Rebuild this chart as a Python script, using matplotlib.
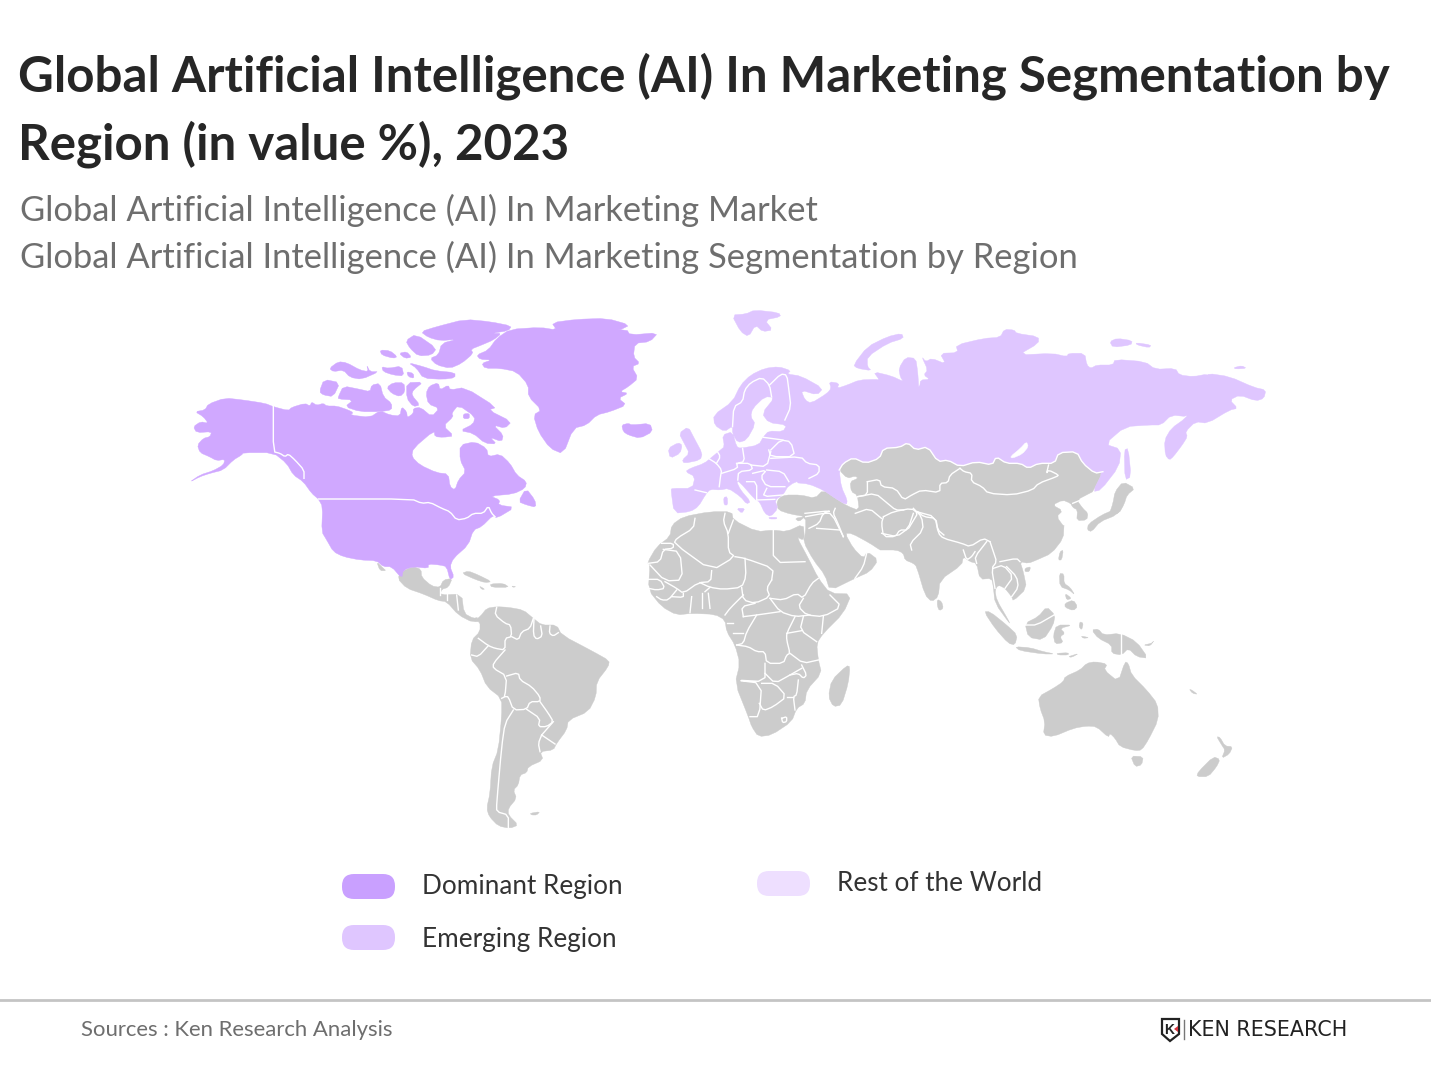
import matplotlib
matplotlib.use("Agg")
import matplotlib.pyplot as plt
from matplotlib.patches import Polygon, FancyBboxPatch

# ---------- texts ----------
TITLE_LINES = ["Global Artificial Intelligence (AI) In Marketing Segmentation by",
               "Region (in value %), 2023"]
SUBTITLE_LINES = ["Global Artificial Intelligence (AI) In Marketing Market",
                  "Global Artificial Intelligence (AI) In Marketing Segmentation by Region"]
LEGEND_LABELS = ["Dominant Region", "Emerging Region", "Rest of the World"]
SOURCE = "Sources : Ken Research Analysis"
LOGO = "KEN RESEARCH"

DOMINANT = "#D0A8FF"
EMERGING = "#DFC6FF"
REST_LEGEND = "#EEDFFF"
LEGEND_DOM = "#C9A0FF"
LAND = "#CCCCCC"

N = (180, 300, 3.0, 3.0)
E = (650, 300, 2.484, 3.0)
S = (390, 500, 3.0, 3.0)
P = (880, 500, 3.0, 3.0)

# ---------- North America (dominant) ----------
NA_MAIN = [(28,547),(60,525),(100,512),(130,495),(135,478),(110,482),(88,470),(60,458),(52,435),(70,415),(90,410),(95,395),(50,398),(40,380),(62,365),(85,370),(70,350),(45,335),(75,330),(85,312),(135,294),(190,300),(255,310),(280,320),(325,332),(335,322),(375,310),(390,318),(395,306),(410,316),(430,310),(440,318),(470,318),(505,330),(520,338),(510,345),(570,352),(600,332),(630,345),(660,348),(665,320),(680,335),(682,353),(700,340),(700,325),(722,322),(755,350),(778,325),(745,312),(738,280),(748,258),(775,248),(780,270),(805,255),(810,270),(855,262),(950,322),(925,330),(995,365),(975,385),(940,375),(970,405),(965,425),(930,412),(950,432),(915,430),(880,400),(840,392),(880,372),(885,350),(835,315),(815,340),(820,350),(790,378),(822,408),(790,412),(765,410),(762,392),(700,445),(695,470),(720,495),(770,518),(805,522),(810,560),(825,570),(835,540),(858,515),(840,480),(840,435),(885,425),(920,445),(925,470),(960,462),(990,490),(1010,525),(1040,545),(1035,565),(1000,582),(930,588),(960,600),(955,615),(1005,622),(950,655),(940,645),(905,680),(880,690),(865,735),(820,775),(810,800),(822,830),(810,840),(800,800),(780,795),(745,792),(745,805),(700,800),(670,810),(665,835),(635,800),(610,800),(590,782),(540,780),(490,770),(460,755),(440,720),(425,695),(428,620),(415,597),(395,580),(370,545),(340,525),(320,490),(280,458),(190,458),(185,465),(160,480),(130,510),(90,520),(60,530)]
NA_ISLANDS = [
 [(1015,605),(1038,565),(1065,600),(1068,622),(1040,615)],
 [(677,122),(708,102),(770,145),(755,165),(715,168),(690,145)],
 [(722,95),(770,80),(855,58),(930,65),(995,78),(985,92),(935,100),(965,100),(940,120),(905,135),(872,148),(880,160),(845,190),(810,205),(770,195),(750,175),(775,165),(785,130),(830,118),(780,122),(745,112)],
 [(685,188),(730,200),(765,212),(825,218),(825,233),(790,238),(730,235),(710,205)],
 [(600,150),(630,152),(652,170),(640,175),(605,165)],
 [(657,160),(680,155),(695,172),(675,175)],
 [(448,205),(475,185),(500,188),(540,210),(565,215),(560,195),(570,215),(597,215),(545,238),(510,232),(490,210),(460,215)],
 [(605,200),(625,205),(665,198),(672,228),(640,225),(610,215)],
 [(680,215),(700,220),(702,235),(685,230)],
 [(418,275),(432,238),(480,248),(460,290),(430,285)],
 [(475,290),(490,258),(540,268),(570,275),(575,255),(600,250),(610,290),(635,310),(635,330),(600,335),(540,335),(495,320),(520,300),(475,297)],
 [(620,262),(640,248),(672,248),(675,275),(660,290),(635,280)],
 [(680,248),(730,246),(700,270),(695,285),(720,315),(700,320),(680,295)],
 [(850,342),(868,340),(868,356),(850,356)],
 [(890,165),(925,150),(950,115),(990,88),(1080,82),(1130,90),(1115,68),(1190,58),(1280,55),(1350,75),(1320,90),(1250,92),(1340,88),(1350,105),(1435,98),(1410,125),(1365,130),(1360,170),(1380,190),(1355,200),(1375,235),(1345,260),(1320,275),(1345,280),(1315,295),(1340,315),(1290,335),(1250,345),(1220,375),(1180,385),(1150,462),(1110,445),(1075,395),(1060,345),(1085,330),(1045,290),(1045,255),(1010,215),(960,205),(915,205),(905,190),(935,180),(900,178)],
 [(1325,375),(1345,370),(1355,375),(1410,370),(1418,395),(1380,415),(1345,405),(1330,395)],
]
NA_BORDERS = [
 [(280,320),(280,455),(300,460),(315,470),(325,462),(345,480),(372,510),(372,535)],
 [(415,597),(695,597),(725,610),(750,607),(785,625),(810,635),(830,660),(860,655),(880,640),(910,640),(925,618),(935,640),(945,650)],
]

# ---------- Europe and Russia (emerging) ----------
RUSSIA_SOUTH = [(1125,515),(1105,520),(1075,490),(1060,455),(1015,458),(1005,490),(965,490),(940,505),(920,490),(885,490),(860,470),(850,495),(810,485),(770,500),(740,480),(715,485),(690,440),(660,450),(640,428),(620,442),(580,445),(570,475),(535,490),(505,473),(480,490),(470,510)]
EU_NORTH = [(52,570),(55,565),(105,565),(112,530),(88,515),(100,505),(135,490),(155,470),(175,450),(185,440),(180,405),(205,395),(215,440),(225,445),(270,435),(282,410),(295,393),(330,395),(340,375),(295,368),(278,340),(310,292),(285,290),(255,325),(250,350),(262,372),(240,420),(218,428),(205,400),(205,378),(185,395),(160,375),(158,345),(205,305),(225,255),(250,225),(285,205),(320,200),(350,212),(340,222),(375,228),(430,265),(415,285),(375,270),(385,300),(400,310),(440,280),(450,265),(445,245),(470,250),(465,265),(490,255),(520,240),(560,238),(570,240),(555,215),(600,228),(630,245),(622,232),(618,205),(635,172),(660,175),(665,215),(668,270),(650,278),(670,260),(672,240),(695,238),(680,225),(690,210),(675,170),(685,185),(700,175),(735,192),(720,160),(765,158),(760,135),(830,115),(870,112),(880,88),(905,90),(910,100),(965,110),(965,130),(915,165),(1000,160),(1035,170),(1040,160),(1080,160),(1085,195),(1095,205),(1110,195),(1150,195),(1155,178),(1230,185),(1255,208),(1305,205),(1315,225),(1350,230),(1385,222),(1390,235),(1385,220),(1440,230),(1500,262),(1530,270),(1525,295),(1505,303),(1465,285),(1440,300),(1460,325),(1440,330),(1385,370),(1355,365),(1330,395),(1335,410),(1322,435),(1300,470),(1290,480),(1280,465),(1278,420),(1295,385),(1330,355),(1342,332),(1335,350),(1295,345),(1270,375),(1240,375),(1180,380),(1130,432),(1170,448),(1165,500),(1120,570),(1100,575)]
EU_SOUTH = [(475,560),(490,600),(488,615),(460,595),(430,570),(395,552),(360,548),(385,535),(345,555),(330,585),(310,600),(318,625),(300,650),(285,640),(272,605),(262,600),(222,545),(215,545),(225,570),(250,605),(240,612),(225,590),(195,565),(175,570),(150,568),(140,580),(120,620),(100,635),(60,640)]
EU_ISLANDS = [
 [(72,400),(95,380),(110,415),(130,460),(125,480),(85,490),(80,480),(98,460),(85,430)],
 [(45,445),(70,428),(80,435),(75,460),(50,475)],
 [(203,45),(238,42),(260,30),(320,38),(325,50),(285,60),(305,90),(280,95),(262,75),(245,110),(225,95)],
 [(505,195),(540,140),(590,110),(625,100),(630,115),(590,130),(540,170),(540,200),(550,212),(515,205)],
 [(1142,125),(1160,115),(1198,122),(1195,135),(1150,142)],
 [(1207,128),(1245,135),(1240,143),(1210,135)],
 [(1450,203),(1470,197),(1482,205),(1455,207)],
 [(1178,450),(1188,445),(1195,530),(1180,540)],
 [(183,592),(192,590),(193,615),(184,615)],
 [(215,625),(236,625),(228,640)],
 [(295,652),(315,652),(315,657),(297,657)],
]
BAIKAL = [(935,425),(940,440),(925,462),(900,475),(895,470),(920,445)]
EU_BORDERS = [
 [(205,380),(208,320),(230,305),(235,270),(250,248),(278,232),(297,255),(302,290)],
 [(297,255),(325,222),(340,225),(345,270),(350,320),(335,360)],
 [(112,570),(140,578)],
 [(145,475),(165,490),(178,510),(175,530),(172,560)],
 [(165,450),(175,470),(165,490)],
 [(230,445),(235,485),(215,490),(218,505),(178,520)],
 [(215,490),(250,490),(255,510),(220,515),(218,540)],
 [(300,455),(290,500),(250,495)],
 [(295,450),(300,470),(360,470),(350,425),(325,420),(300,450)],
 [(282,412),(330,420)],
 [(300,475),(375,470),(390,490),(420,495),(420,520),(395,535)],
 [(290,510),(330,515),(345,545)],
 [(255,520),(290,510),(275,530),(290,560),(335,560)],
 [(240,545),(265,545),(265,600)],
 [(290,565),(280,590),(330,585)],
 [(265,600),(310,598)],
]

# ---------- Rest of the world (grey) ----------
ASIA_A = [(1100,575),(1095,578),(1060,600),(1075,625),(1088,640),(1085,660),(1060,662),(1062,630),(1050,622),(1045,610),(1025,600),(1000,615),(1025,632),(1010,650),(1028,680)]
ASIA_B = [(552,75),(550,115),(515,160),(470,180),(445,190),(420,185),(430,215),(440,265),(400,303),(395,290),(375,265),(355,255),(345,270),(350,300),(385,360),(390,372),(345,310),(340,260),(335,235),(300,238),(290,190),(270,185),(250,170),(245,195),(180,240),(175,290),(155,305),(135,285),(110,200),(100,190),(75,180),(70,160),(50,150),(5,150)]
ASIA_C = [(1470,150),(1440,130),(1385,100),(1365,100),(1390,145),(1420,175),(1432,155),(1465,180),(1440,215),(1395,235),(1320,272),(1305,225),(1270,180),(1240,125),(1247,95),(1247,50),(1200,42),(1165,30)]
ASIA_D = [(315,610),(320,595),(335,585),(375,585),(410,595),(430,570),(460,595),(490,618),(520,632),(515,585),(500,575),(497,545),(517,535),(510,528),(490,535)]
AFRICA = [(772,188),(800,140),(840,110),(845,75),(880,50),(960,35),(1025,35),(1030,60),(1100,95),(1150,90),(1190,95),(1240,72),(1243,110),(1238,120),(1220,110),(1255,175),(1285,235),(1320,280),(1385,282),(1360,340),(1300,400),(1280,430),(1285,480),(1295,520),(1250,570),(1245,610),(1220,625),(1205,665),(1145,705),(1105,710),(1085,680),(1075,650),(1035,550),(1050,490),(1035,435),(1010,395),(1005,360),(975,343),(905,340),(860,345),(815,320),(775,270),(780,195)]
SOUTH_AMERICA = [(250,365),(272,348),(290,325),(320,320),(355,322),(400,330),(430,355),(455,375),(500,375),(515,405),(610,455),(658,482),(655,500),(620,545),(618,590),(595,635),(535,660),(530,690),(500,730),(490,750),(450,755),(460,780),(415,800),(410,818),(390,825),(385,855),(370,870),(380,895),(355,925),(355,945),(385,975),(360,985),(325,978),(298,950),(290,925),(300,880),(305,800),(325,750),(335,650),(335,595),(290,560),(270,510),(240,475),(245,420),(270,395),(270,365)]
CENTRAL_AMERICA = [(22,235),(40,212),(70,200),(93,208),(95,232),(125,258),(150,262),(160,240),(187,235),(175,262),(155,268),(150,285),(215,282),(222,340),(250,355),(265,352),(250,368),(205,345),(170,305),(145,302),(100,282),(50,265)]
S_ISLANDS = [
 [(1370,497),(1380,500),(1375,550),(1355,615),(1330,620),(1315,590),(1325,540)],
 [(420,940),(450,935),(440,945),(425,945)],
 [(215,220),(235,213),(265,225),(305,245),(285,248),(255,238)],
 [(300,252),(340,250),(358,262),(305,262)],
 [(268,258),(285,268),(275,268)],
 [(365,258),(378,260),(370,262)],
]
E_ISLANDS_GREY = [
 [(1175,545),(1205,565),(1185,585),(1178,612),(1165,640),(1140,645),(1150,610),(1155,575)],
 [(360,655),(385,650),(370,665)],
]
P_ISLANDS = [
 [(725,0),(730,15),(710,45),(660,65),(635,95),(622,90),(625,72),(665,45),(700,30)],
 [(540,155),(550,150),(545,180),(535,180)],
 [(435,205),(452,200),(448,215),(435,215)],
 [(172,298),(185,305),(190,325),(178,332),(172,318)],
 [(538,220),(552,222),(552,250),(570,262),(585,285),(568,270),(540,260)],
 [(555,310),(580,300),(593,320),(580,332),(555,322)],
 [(555,280),(575,295),(560,300)],
 [(312,335),(330,335),(380,375),(412,405),(405,435),(385,430),(345,385)],
 [(435,370),(475,350),(500,320),(525,345),(520,375),(490,420),(445,412)],
 [(530,375),(578,375),(540,385),(555,400),(540,410),(550,428),(525,432),(520,405)],
 [(405,440),(450,443),(490,455),(525,462),(490,462),(420,452)],
 [(530,460),(565,458),(565,465),(535,465)],
 [(565,470),(597,460),(575,472)],
 [(600,365),(610,370),(605,390),(597,380)],
 [(603,408),(628,413),(610,415)],
 [(635,390),(655,387),(670,405),(720,400),(770,425),(805,475),(770,470),(745,445),(725,465),(695,460),(695,435),(655,415)],
 [(790,435),(815,430),(822,422),(810,438)],
 [(475,590),(520,565),(550,545),(555,530),(600,510),(620,490),(645,485),(682,492),(672,510),(715,545),(735,485),(745,490),(755,525),(800,570),(833,612),(835,660),(805,720),(785,750),(765,752),(720,740),(705,715),(690,700),(685,712),(650,680),(620,678),(580,685),(520,710),(490,705),(495,665),(480,625)],
 [(752,768),(790,770),(785,795),(765,800)],
 [(1010,710),(1020,712),(1035,738),(1058,740),(1048,762),(1025,775),(1035,750),(1025,735)],
 [(1000,770),(1020,778),(1010,800),(985,830),(950,830),(955,815)],
 [(928,568),(935,570),(953,583),(938,580)],
]
BAJA = [(590,785),(610,805),(618,812),(600,812)]
S_BORDERS = [
 [(320,322),(315,345),(345,370),(362,375),(365,410),(345,415),(345,450),(315,445),(295,437),(265,415)],
 [(430,355),(420,385),(395,395),(385,420),(365,410)],
 [(432,355),(430,405),(440,418),(457,408),(452,378)],
 [(480,378),(478,400),(490,408),(505,398)],
 [(295,437),(265,470),(245,465)],
 [(345,450),(310,490),(310,505),(350,528),(345,590),(335,595)],
 [(350,528),(385,518),(390,540),(425,560),(450,590),(450,605),(420,605),(410,628),(370,630),(355,590),(345,590)],
 [(410,628),(450,655),(445,680),(470,680),(490,665),(475,640),(450,605)],
 [(455,705),(495,732)],[(455,705),(445,730),(450,755)],
 [(490,665),(455,705)],
 [(370,630),(345,670),(335,740),(320,910),(320,935),(355,945),(355,985)],
 [(775,190),(810,185),(820,148),(850,145),(850,130),(815,130)],
 [(915,55),(910,85),(860,115),(852,130),(965,212),(1035,170),(1015,155),(1015,100),(1000,65),(1005,40)],
 [(1030,60),(1015,100)],
 [(1150,90),(1150,188),(1245,185)],
 [(1035,170),(1065,175),(1150,205),(1145,240)],
 [(820,148),(870,155),(878,240),(825,243),(780,195)],
 [(965,212),(962,245),(925,248),(880,280),(860,265),(825,245)],
 [(1065,175),(1068,230),(1055,262),(1000,268),(960,262),(930,248)],
 [(1145,240),(1130,265),(1140,290),(1095,310),(1060,300),(1055,262)],
 [(1140,295),(1180,300),(1220,280),(1240,295),(1265,250),(1285,235)],
 [(1140,295),(1170,335),(1215,350),(1260,345)],
 [(1240,295),(1225,320),(1250,345),(1300,350),(1355,320),(1320,285)],
 [(1240,350),(1230,390),(1280,425)],
 [(1300,350),(1295,400)],
 [(945,275),(960,262)],[(1060,285),(1020,325),(1005,345)],[(960,325),(955,280)],
 [(1060,350),(1055,320),(1095,310)],[(1170,335),(1100,345),(1060,350)],
 [(1040,435),(1075,440),(1100,455),(1125,455),(1130,490),(1180,490),(1190,465),(1200,460),(1190,420),(1190,400),(1215,350)],
 [(1100,345),(1070,395),(1060,430),(1040,435)],
 [(1190,400),(1235,392)],[(1200,460),(1240,490),(1285,480)],
 [(1125,490),(1125,545),(1035,540),(1115,550),(1108,650),(1080,650)],
 [(1125,520),(1155,550),(1200,525),(1235,505)],
 [(1235,495),(1250,525),(1240,535),(1225,520),(1200,525)],
 [(1225,540),(1220,585),(1210,590),(1215,630)],
 [(1115,550),(1155,550),(1190,590),(1150,620),(1120,632),(1108,610)],
 [(1190,590),(1210,590)],
 [(1175,655),(1190,650),(1190,665),(1178,668),(1175,655)],
 [(775,238),(810,238),(825,265),(800,270),(775,265)],
 [(800,290),(815,300),(835,300),(860,270)],
 [(880,280),(880,292),(845,290)],[(905,290),(900,338)],[(935,280),(935,325)],
 [(1010,370),(1030,370)],[(1030,400),(1060,400)],
 [(150,265),(150,285)],[(170,283),(170,300)],[(200,285),(205,330)],
 [(1247,50),(1300,40),(1325,40),(1360,110)],[(1280,85),(1350,90)],
 [(1395,235),(1420,200),(1430,160)],
]
E_BORDERS_GREY = [
 [(540,545),(540,585),(515,590)],
 [(540,545),(570,538),(575,560),(610,565),(630,600),(650,585),(675,570),(720,578),(720,550),(740,548),(745,525),(770,505)],
 [(770,505),(780,515),(800,520),(798,545),(825,560),(840,580),(900,585),(950,570),(965,550),(1010,530),(1015,525),(990,510),(985,520),(990,495)],
 [(515,590),(560,580),(590,610),(610,630),(630,630)],
 [(580,650),(605,635),(650,625),(665,640),(655,660),(640,690),(620,690),(610,710),(580,710),(575,670),(580,650)],
 [(575,655),(545,625),(510,640)],
 [(460,625),(455,640),(465,665),(480,710)],
 [(385,640),(450,632),(430,640),(420,670),(395,685)],
 [(665,635),(680,650),(710,655),(715,690),(730,705)],
 [(1050,610),(1090,590)],
]
P_BORDERS = [
 [(100,25),(125,50),(130,90),(90,130),(95,150)],
 [(110,35),(165,50),(175,100),(190,115),(245,130),(270,140),(310,115),(330,125)],
 [(250,150),(260,180),(275,170),(285,155)],
 [(330,125),(340,155),(350,185),(335,205),(345,265)],
 [(290,190),(285,170),(320,125)],
 [(360,185),(410,175),(420,185)],
 [(380,200),(410,230),(415,262),(395,290)],
 [(340,205),(370,195),(400,230),(375,265)],
 [(5,100),(50,110),(85,85),(100,40)],
 [(440,375),(470,375),(522,345)],
 [(722,400),(722,465)],
]

# ---------- legend and frame ----------
fig = plt.figure(figsize=(14.31, 10.73), dpi=100, facecolor="white")
ax = fig.add_axes([0, 0, 1, 1])
ax.set_xlim(0, 1431)
ax.set_ylim(1073, 0)
ax.axis("off")


def place(points, sheet):
    ox, oy, sx, sy = sheet
    return [(ox + x / sx, oy + y / sy) for x, y in points]


def soften(points, closed, cut=0.22):
    # round the corners of an outline a little (no new geography, only the drawing of corners)
    out = []
    n = len(points)
    pairs = range(n) if closed else range(n - 1)
    if not closed:
        out.append(points[0])
    for i in pairs:
        (x0, y0), (x1, y1) = points[i], points[(i + 1) % n]
        out.append((x0 + cut * (x1 - x0), y0 + cut * (y1 - y0)))
        out.append((x1 - cut * (x1 - x0), y1 - cut * (y1 - y0)))
    if not closed:
        out.append(points[-1])
    return out


def land(points, color, z=2):
    ax.add_patch(Polygon(soften(points, True), closed=True, facecolor=color, edgecolor=color,
                         lw=0.3, zorder=z))


def border(points, z=4):
    xs, ys = zip(*soften(points, False))
    ax.plot(xs, ys, color="white", lw=1.0, solid_joinstyle="round", zorder=z)


# grey land
asia = (place(RUSSIA_SOUTH[::-1], E) + place(ASIA_A, E) + place(ASIA_B, P)
        + place(ASIA_C, S) + place(ASIA_D, E))
land(asia, LAND)
for shape in (AFRICA, SOUTH_AMERICA, CENTRAL_AMERICA, *S_ISLANDS):
    land(place(shape, S), LAND)
for shape in E_ISLANDS_GREY:
    land(place(shape, E), LAND)
for shape in P_ISLANDS:
    land(place(shape, P), LAND)
land(place(BAJA, N), LAND)

# emerging
land(place(EU_NORTH + RUSSIA_SOUTH + EU_SOUTH, E), EMERGING, 3)
for shape in EU_ISLANDS:
    land(place(shape, E), EMERGING, 3)
land(place(BAIKAL, E), "white", 3)

# dominant
land(place(NA_MAIN, N), DOMINANT, 3)
for shape in NA_ISLANDS:
    land(place(shape, N), DOMINANT, 3)

# country borders
for sheet, lines in ((N, NA_BORDERS), (E, EU_BORDERS), (E, E_BORDERS_GREY), (S, S_BORDERS), (P, P_BORDERS)):
    for line in lines:
        border(place(line, sheet))
border(place(RUSSIA_SOUTH, E))

# titles
for text, y in zip(TITLE_LINES, (91, 159.5)):
    ax.text(18.5, y, text, family="Lato", weight="bold", fontsize=35.5, color="#262626", va="baseline")
for text, y in zip(SUBTITLE_LINES, (221, 268)):
    ax.text(20.5, y, text, family="Lato", fontsize=24.83, color="#6E6E6E", va="baseline")

# legend
for (x, y), col, label, (tx, ty) in zip(
        ((342, 874), (342, 925), (757, 871)),
        (LEGEND_DOM, EMERGING, REST_LEGEND),
        LEGEND_LABELS,
        ((422, 894), (422, 947), (837, 891))):
    ax.add_patch(FancyBboxPatch((x, y), 53, 25, boxstyle="round,pad=0,rounding_size=12",
                                facecolor=col, edgecolor="none", zorder=3))
    ax.text(tx, ty, label, family="Lato", fontsize=18.8, color="#333333", va="baseline")

# footer
ax.plot([0, 1431], [1000, 1000], color="#C4C4C4", lw=2, zorder=1)
ax.text(81, 1035.5, SOURCE, family="Lato", fontsize=15.95, color="#6E6E6E", va="baseline")

# logo
SHIELD = [(1162,1019),(1179,1019),(1179,1034),(1170,1041),(1162,1034)]
ax.add_patch(Polygon(SHIELD, closed=True, facecolor="white", edgecolor="#222222", lw=1.6, zorder=3))
ax.text(1169.5, 1030, "K", family="Liberation Sans", weight="bold", fontsize=10, color="#222222",
        ha="center", va="center", zorder=4)
ax.add_patch(Polygon([(1178,1026),(1178,1032),(1174,1029)], closed=True, facecolor="#D9343F",
                     edgecolor="none", zorder=5))
ax.plot([1184, 1184], [1020, 1039], color="#777777", lw=1, zorder=3)
ax.text(1188, 1036, LOGO, family="DejaVu Sans", fontsize=14.85, color="#222222", va="baseline", zorder=3)

fig.savefig("out.png", dpi=100, facecolor="white")
